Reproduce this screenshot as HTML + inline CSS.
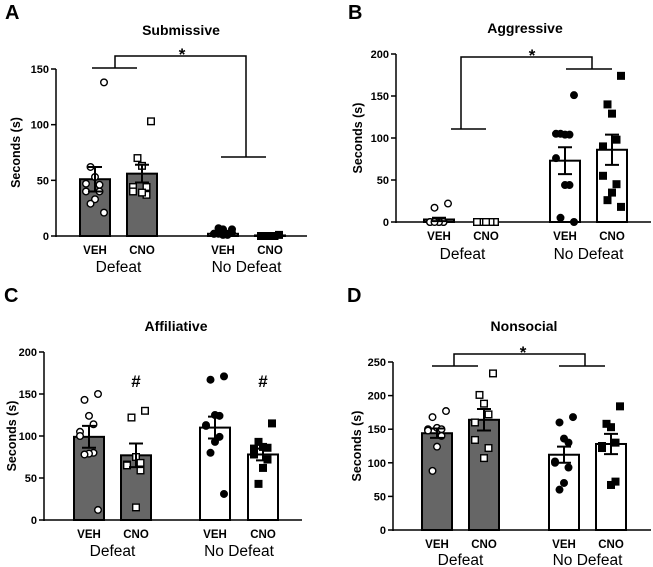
<!DOCTYPE html>
<html><head><meta charset="utf-8">
<style>
html,body{margin:0;padding:0;background:#fff;}
svg{display:block;font-family:"Liberation Sans",Arial,sans-serif;}
</style></head>
<body>
<svg id="fig" width="653" height="567" viewBox="0 0 653 567"></svg>
<script>
// ---- data ----
const groups = ["VEH","CNO","VEH","CNO"];
const conditions = ["Defeat","No Defeat"];
const subMeans = [51, 56, 2, 0.5];
const subSem = [11, 8, 1, 0.3];
const subPts = [[138,62,53,46,47,40,40,33,29,21],[103,70,63,44,44,40,37,39],[6,7,6,2,2,2,1,1,2,3],[1,0,0,0,0,0,0,0]];
const subTicks = [0,50,100,150];
const aggMeans = [3, 0, 73, 86];
const aggSem = [2, 0, 16, 18];
const aggPts = [[22,17,0,0,0,0,0,0,0],[0,0,0,0,0,0,0,0],[151,105,104,104,105,76,44,44,5,0],[174,140,129,98,90,55,45,35,26,18]];
const aggTicks = [0,50,100,150,200];
const affMeans = [99, 77, 110, 78];
const affSem = [13, 14, 13, 7];
const affPts = [[150,143,124,114,105,100,80,79,78,12],[130,122,75,68,66,65,59,15],[171,167,125,124,113,112,99,93,80,31],[115,93,87,86,85,78,72,62,43]];
const affTicks = [0,50,100,150,200];
const nonMeans = [144, 164, 112, 128];
const nonSem = [7, 16, 12, 15];
const nonPts = [[177,168,152,150,150,148,140,124,88],[233,201,188,172,160,134,122,107],[168,160,136,130,102,100,93,70,60],[184,158,153,130,125,122,72,67]];
const nonTicks = [0,50,100,150,200,250];

const NS="http://www.w3.org/2000/svg";
const svg=document.getElementById('fig');
function mk(tag,attrs,parent,txt){const e=document.createElementNS(NS,tag);for(const k in attrs)e.setAttribute(k,attrs[k]);if(txt!==undefined)e.textContent=txt;(parent||svg).appendChild(e);return e;}

function panel(cfg){
  const g=mk('g',{});
  
  
  const ymax=cfg.ticks[cfg.ticks.length-1];
  const Y=v=>cfg.y0-(v/ymax)*(cfg.y0-cfg.ytop);
  let t=mk('text',{x:cfg.lx,y:cfg.ly,'font-size':20,'font-weight':'bold'},g,cfg.letter);
  
  
  t=mk('text',{x:cfg.tx,y:cfg.ty,'font-size':14,'font-weight':'bold','text-anchor':'middle'},g,cfg.title);
  
  
  let a=mk('line',{x1:cfg.ax,y1:cfg.ytop,x2:cfg.ax,y2:cfg.y0+1,stroke:'#000','stroke-width':1.5},g);
  
  
  a=mk('line',{x1:cfg.ax,y1:cfg.y0,x2:cfg.axEnd,y2:cfg.y0,stroke:'#000','stroke-width':1.5},g);
  
  
  cfg.ticks.forEach(v=>{
    mk('line',{x1:cfg.ax-5,y1:Y(v),x2:cfg.ax,y2:Y(v),stroke:'#000','stroke-width':1.5},g);
    const tl=mk('text',{x:cfg.ax-7,y:Y(v)+4,'font-size':11,'font-weight':'bold','text-anchor':'end'},g,String(v));
    
    
  });
  const ymid=(cfg.y0+cfg.ytop)/2;
  t=mk('text',{x:cfg.yx,y:ymid,'font-size':12.5,'font-weight':'bold','text-anchor':'middle',transform:`rotate(-90 ${cfg.yx} ${ymid})`},g,'Seconds (s)');
  
  
  cfg.means.forEach((m,i)=>{
    const cx=cfg.cx[i], w=30, defeat=i<2;
    const b=mk('rect',{x:cx-w/2,y:Y(m),width:w,height:cfg.y0-Y(m),fill:defeat?'#666':'#fff',stroke:'#000','stroke-width':2},g);
    
    
    const pts=cfg.pts[i];
    pts.forEach((v,j)=>{
      const off=((j%5)-2)*5*(j%2?1:-1)*0.9;
      const px=cx+off, py=Y(v);
      let p;
      if(i%2===0){
        p=mk('circle',{cx:px,cy:py,r:3.3,fill:defeat?'#fff':'#000',stroke:'#000','stroke-width':1.4},g);
      } else {
        p=mk('rect',{x:px-3.3,y:py-3.3,width:6.6,height:6.6,fill:defeat?'#fff':'#000',stroke:'#000','stroke-width':1.4},g);
      }
      
      
    });
    const s=cfg.sem[i];
    if(s>0){
      const e=mk('path',{d:`M${cx},${Y(m+s)}V${Y(m-s)}M${cx-7},${Y(m+s)}H${cx+7}M${cx-7},${Y(m-s)}H${cx+7}`,stroke:'#000','stroke-width':2,fill:'none'},g);
      
      
    }
    const gl=mk('text',{x:cx,y:cfg.gy,'font-size':11.5,'font-weight':'bold','text-anchor':'middle'},g,groups[i]);
    
    
    if(cfg.hash && i%2===1){
      const h=mk('text',{x:cx,y:cfg.hashY,'font-size':17,'font-weight':'bold','text-anchor':'middle'},g,'#');
      
      
    }
  });
  conditions.forEach((c,k)=>{
    const cl=mk('text',{x:(cfg.cx[2*k]+cfg.cx[2*k+1])/2,y:cfg.cy,'font-size':15.5,'text-anchor':'middle'},g,c);
    
    
  });
  if(cfg.br){
    const b=cfg.br;
    const p=mk('path',{d:`M${b.x1},${b.yl}V${b.top}H${b.x2}V${b.yr}M${b.l1},${b.yl}H${b.l2}M${b.r1},${b.yr}H${b.r2}`,stroke:'#000','stroke-width':1.5,fill:'none'},g);
    
    
    const s=mk('text',{x:b.sx,y:b.sy,'font-size':17,'font-weight':'bold','text-anchor':'middle'},g,'*');
    
    
  }
}

panel({name:'panel-a-submissive',letter:'A',lx:5,ly:19,title:'Submissive',tx:181,ty:35,ax:56,axEnd:307,y0:236,ytop:69,ticks:subTicks,
  yx:20,cx:[95,142,223,270],means:subMeans,sem:subSem,pts:subPts,gy:254,cy:272,
  br:{x1:115,x2:246,top:56,yl:68,yr:157,l1:92,l2:137,r1:221,r2:266,sx:182,sy:60}});
panel({name:'panel-b-aggressive',letter:'B',lx:348,ly:19,title:'Aggressive',tx:525,ty:33,ax:396,axEnd:651,y0:222,ytop:54,ticks:aggTicks,
  yx:362,cx:[439,486,565,612],means:aggMeans,sem:aggSem,pts:aggPts,gy:240,cy:259,
  br:{x1:461,x2:592,top:57,yl:129,yr:69,l1:451,l2:486,r1:566,r2:612,sx:532,sy:61}});
panel({name:'panel-c-affiliative',letter:'C',lx:4,ly:302,title:'Affiliative',tx:176,ty:331,ax:44,axEnd:302,y0:520,ytop:352,ticks:affTicks,
  yx:16,cx:[89,136,215,263],means:affMeans,sem:affSem,pts:affPts,gy:538,cy:556,hash:true,hashY:387});
panel({name:'panel-d-nonsocial',letter:'D',lx:347,ly:302,title:'Nonsocial',tx:524,ty:331,ax:393,axEnd:651,y0:530,ytop:362,ticks:nonTicks,
  yx:361,cx:[437,484,564,611],means:nonMeans,sem:nonSem,pts:nonPts,gy:548,cy:565,
  br:{x1:454,x2:585,top:354,yl:366,yr:366,l1:432,l2:478,r1:559,r2:605,sx:523,sy:358}});
</script>
</body></html>
